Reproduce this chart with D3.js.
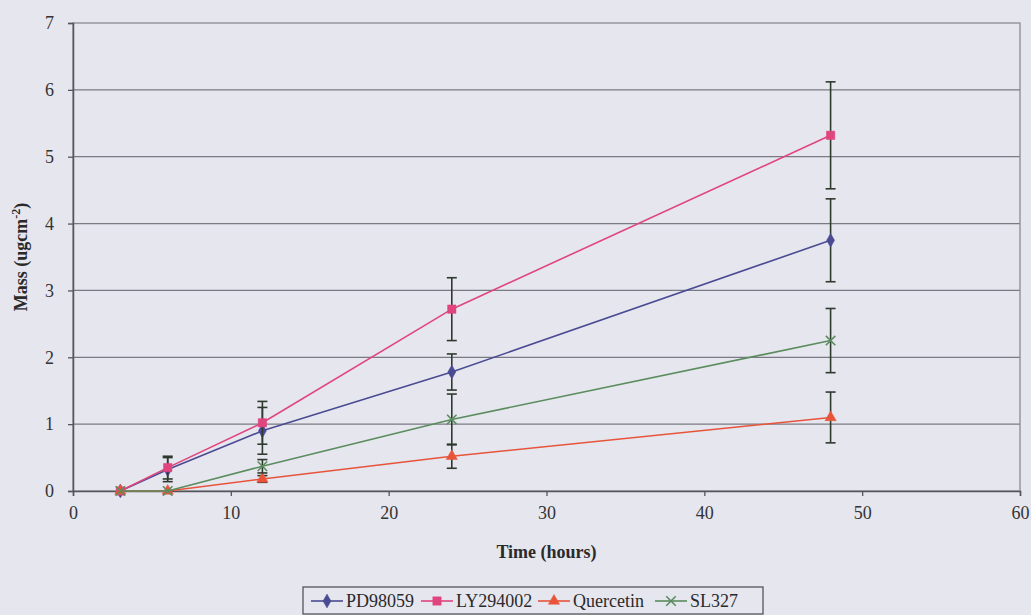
<!DOCTYPE html>
<html>
<head>
<meta charset="utf-8">
<script src="https://cdn.jsdelivr.net/npm/d3@7"></script>
<style>
  body { margin: 0; background: #e6e6ef; }
  svg { display: block; font-family: "Liberation Serif", "Times New Roman", serif; }
</style>
</head>
<body>
<div id="root"></div>
<script>
const root = d3.select("#root");

const width = 1031;
const height = 615;
const margin = { top: 23, right: 11, bottom: 124, left: 73 };
const innerWidth = width - margin.left - margin.right;
const innerHeight = height - margin.top - margin.bottom;

// hours sampled
const times = [3, 6, 12, 24, 48];

const pdValues = [0, 0.32, 0.9, 1.78, 3.75];
const pdErrors = [0, 0.18, 0.35, 0.27, 0.62];
const lyValues = [0, 0.35, 1.02, 2.72, 5.32];
const lyErrors = [0, 0.17, 0.32, 0.47, 0.8];
const quValues = [0, 0, 0.18, 0.52, 1.1];
const quErrors = [0, 0, 0.05, 0.18, 0.38];
const slValues = [0, 0, 0.37, 1.07, 2.25];
const slErrors = [0, 0, 0.1, 0.38, 0.48];

const xTicks = [0, 10, 20, 30, 40, 50, 60];
const yTicks = [0, 1, 2, 3, 4, 5, 6, 7];

const seriesInfo = [
  { label: "PD98059", values: pdValues, errors: pdErrors, color: "#4b4b94", marker: "diamond" },
  { label: "LY294002", values: lyValues, errors: lyErrors, color: "#e0457e", marker: "square" },
  { label: "Quercetin", values: quValues, errors: quErrors, color: "#e8543a", marker: "triangle" },
  { label: "SL327", values: slValues, errors: slErrors, color: "#5b8c5e", marker: "cross" },
];

const xScale = d3.scaleLinear().domain([0, 60]).range([0, innerWidth]);
const yScale = d3.scaleLinear().domain([0, 7]).range([innerHeight, 0]);

const svg = root
  .append("svg")
  .attr("width", width)
  .attr("height", height)
  .attr("viewBox", `0 0 ${width} ${height}`);

const innerChart = svg
  .append("g")
  .attr("transform", `translate(${margin.left}, ${margin.top})`);

// gridlines
innerChart
  .selectAll(".grid")
  .data(yTicks.filter((t) => t > 0 && t < 7))
  .join("line")
  .attr("x1", 0)
  .attr("x2", innerWidth)
  .attr("y1", (d) => yScale(d))
  .attr("y2", (d) => yScale(d))
  .attr("stroke", "#7a7a82")
  .attr("stroke-width", 1.3);

// plot border
innerChart
  .append("rect")
  .attr("width", innerWidth)
  .attr("height", innerHeight)
  .attr("fill", "none")
  .attr("stroke", "#8a8a92")
  .attr("stroke-width", 1.3);

const bottomAxis = d3.axisBottom(xScale).tickValues(xTicks).tickSize(5).tickPadding(10);
const gx = innerChart
  .append("g")
  .attr("transform", `translate(0, ${innerHeight})`)
  .call(bottomAxis);

const leftAxis = d3
  .axisLeft(yScale)
  .tickValues(yTicks)
  .tickFormat(d3.format("d"))
  .tickSize(5)
  .tickPadding(14);
const gy = innerChart.append("g").call(leftAxis);

[gx, gy].forEach((g) => {
  g.select(".domain").attr("stroke", "#55555c").attr("stroke-width", 1.5);
  g.selectAll(".tick line").attr("stroke", "#55555c").attr("stroke-width", 1.3);
  g.selectAll(".tick text")
    .attr("fill", "#333")
    .style("font-size", "18px")
    .style("font-family", "Liberation Serif, serif");
});

const markerSymbol = {
  diamond: d3.symbol().type(d3.symbolDiamond).size(55),
  square: d3.symbol().type(d3.symbolSquare).size(70),
  triangle: d3.symbol().type(d3.symbolTriangle).size(55),
  cross: d3.symbol().type(d3.symbolX).size(60),
};

const line = d3
  .line()
  .x((d) => xScale(d.t))
  .y((d) => yScale(d.v));

seriesInfo.forEach((s) => {
  const points = times.map((t, i) => ({ t, v: s.values[i], e: s.errors[i] }));

  innerChart
    .append("path")
    .datum(points)
    .attr("d", line)
    .attr("fill", "none")
    .attr("stroke", s.color)
    .attr("stroke-width", 1.6);

  const bars = innerChart
    .selectAll(null)
    .data(points.filter((d) => d.e > 0))
    .join("g")
    .attr("stroke", "#2e3a2e")
    .attr("stroke-width", 1.6);

  bars
    .append("line")
    .attr("x1", (d) => xScale(d.t))
    .attr("x2", (d) => xScale(d.t))
    .attr("y1", (d) => yScale(d.v + d.e))
    .attr("y2", (d) => yScale(d.v - d.e));
  [1, -1].forEach((sign) => {
    bars
      .append("line")
      .attr("x1", (d) => xScale(d.t) - 5)
      .attr("x2", (d) => xScale(d.t) + 5)
      .attr("y1", (d) => yScale(d.v + sign * d.e))
      .attr("y2", (d) => yScale(d.v + sign * d.e));
  });

  innerChart
    .selectAll(null)
    .data(points)
    .join("path")
    .attr("transform", (d) => `translate(${xScale(d.t)}, ${yScale(d.v)})`)
    .attr("d", markerSymbol[s.marker])
    .attr("fill", s.marker === "cross" ? "none" : s.color)
    .attr("stroke", s.color)
    .attr("stroke-width", s.marker === "cross" ? 1.6 : 0.5);
});

// axis titles
svg
  .append("text")
  .attr("x", margin.left + innerWidth / 2)
  .attr("y", 558)
  .attr("text-anchor", "middle")
  .attr("fill", "#2a2a2a")
  .style("font-size", "18px")
  .style("font-weight", 700)
  .text("Time (hours)");

const yTitle = svg
  .append("text")
  .attr("transform", `translate(27, ${margin.top + innerHeight / 2}) rotate(-90)`)
  .attr("text-anchor", "middle")
  .attr("fill", "#2a2a2a")
  .style("font-size", "18px")
  .style("font-weight", 700);
yTitle.append("tspan").text("Mass (ugcm");
yTitle.append("tspan").attr("dy", -7).style("font-size", "12px").text("-2");
yTitle.append("tspan").attr("dy", 7).text(")");

// legend
const legend = svg.append("g").attr("transform", "translate(303, 587)");
legend
  .append("rect")
  .attr("width", 460)
  .attr("height", 27)
  .attr("fill", "none")
  .attr("stroke", "#55555c")
  .attr("stroke-width", 1.3);

const itemX = [8, 118, 235, 352];
seriesInfo.forEach((s, i) => {
  const item = legend.append("g").attr("transform", `translate(${itemX[i]}, 14)`);
  item
    .append("line")
    .attr("x1", 0)
    .attr("x2", 32)
    .attr("stroke", s.color)
    .attr("stroke-width", 1.6);
  item
    .append("path")
    .attr("transform", "translate(16, 0)")
    .attr("d", markerSymbol[s.marker])
    .attr("fill", s.marker === "cross" ? "none" : s.color)
    .attr("stroke", s.color)
    .attr("stroke-width", s.marker === "cross" ? 1.6 : 0.5);
  item
    .append("text")
    .attr("x", 35)
    .attr("y", 6)
    .attr("fill", "#2a2a2a")
    .style("font-size", "18px")
    .text(s.label);
});
</script>
</body>
</html>
